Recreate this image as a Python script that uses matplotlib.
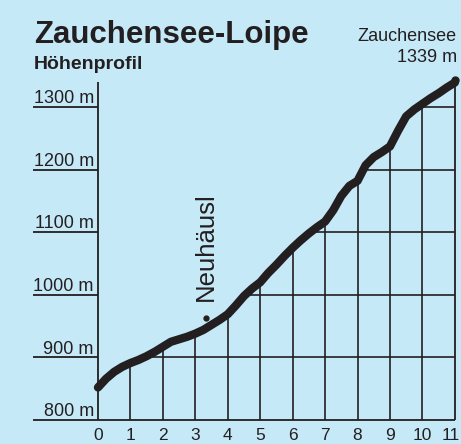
import matplotlib.pyplot as plt
from matplotlib.patches import Polygon

plt.rcParams['font.family'] = ['Liberation Sans', 'DejaVu Sans']

# profile, every 250 m
km = [0, 0.25, 0.5, 0.75, 1, 1.25, 1.5, 1.75, 2, 2.25, 2.5, 2.75, 3, 3.25, 3.5, 3.75,
      4, 4.25, 4.5, 4.75, 5, 5.25, 5.5, 5.75, 6, 6.25, 6.5, 6.75, 7, 7.25, 7.5, 7.75,
      8, 8.25, 8.5, 8.75, 9, 9.25, 9.5, 9.75, 10, 10.25, 10.5, 10.75, 11]
elev = [852, 866, 877, 885, 891, 896, 902, 909, 917, 925, 929, 933, 938, 944, 952, 960,
        969, 983, 998, 1010, 1020, 1035, 1048, 1062, 1075, 1087, 1098, 1108, 1117, 1135, 1158, 1174,
        1182, 1207, 1220, 1228, 1237, 1262, 1285, 1296, 1305, 1314, 1322, 1331, 1339]

x_ticks = list(range(0, 12))
y_levels = [800, 900, 1000, 1100, 1200, 1300]
y_labels = ['800 m', '900 m', '1000 m', '1100 m', '1200 m', '1300 m']

poi_km = 3.32
poi_elev = 963

bg = '#c6e9f8'
ink = '#231f20'

fig = plt.figure(figsize=(4.61, 4.44), dpi=100, facecolor=bg)
ax = fig.add_axes([0, 0, 1, 1])
ax.set_facecolor(bg)
ax.set_xlim(-3.02, 11.19)
ax.set_ylim(761.7, 1470.9)
ax.axis('off')

# area under the profile, used only to clip the grid
pts = list(zip(km, elev)) + [(11, 800), (0, 800)]
area = Polygon(pts, closed=True, facecolor='none', edgecolor='none')
ax.add_patch(area)

h = ax.hlines(y_levels[1:], 0, 11, color=ink, lw=1.2)
h.set_clip_path(area)
v = ax.vlines(x_ticks[1:-1], 800, 1400, color=ink, lw=1.2)
v.set_clip_path(area)

# frame: axis, right edge, base and label underlines
ax.vlines(0, 800, 1340, color=ink, lw=1.3)
ax.vlines(11, 800, elev[-1], color=ink, lw=1.3)
ax.hlines(y_levels, -2.0, 0, color=ink, lw=1.3)
ax.hlines(800, 0, 11, color=ink, lw=1.3)

ax.plot(km, elev, color=ink, lw=6, solid_capstyle='round', solid_joinstyle='round')
ax.plot([11], [1343], 'o', color=ink, ms=5)
ax.plot([poi_km], [poi_elev], 'o', color=ink, ms=3.5)

for lv, lb in zip(y_levels, y_labels):
    ax.text(-0.13, lv + 6, lb, ha='right', va='baseline', fontsize=13, color=ink)
for t in x_ticks[:-1]:
    ax.text(t, 764, str(t), ha='center', va='bottom', fontsize=12.5, color=ink)
# last label sits against the right edge
ax.text(11.16, 764, str(x_ticks[-1]), ha='right', va='bottom', fontsize=12.5, color=ink)

ax.text(3.33, 990, 'Neuhäusl', rotation=90, ha='center', va='bottom',
        fontsize=18.5, color=ink)

ax.text(-1.97, 1402, 'Zauchensee-Loipe', fontsize=22.5, fontweight='bold',
        va='baseline', color=ink)
ax.text(-1.97, 1361, 'Höhenprofil', fontsize=14, fontweight='bold',
        va='baseline', color=ink)
ax.text(11.06, 1405, 'Zauchensee', fontsize=13, ha='right', va='baseline', color=ink)
ax.text(11.06, 1372, '1339 m', fontsize=13, ha='right', va='baseline', color=ink)

plt.savefig('out.png', dpi=100, facecolor=bg)
